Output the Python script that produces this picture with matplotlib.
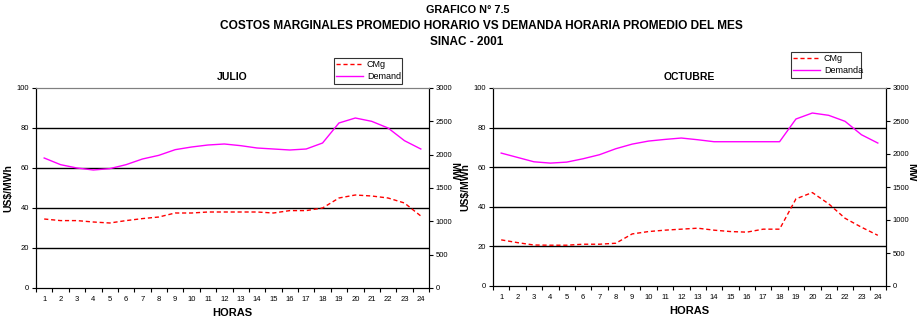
import numpy as np
import matplotlib.pyplot as plt
from matplotlib.ticker import MultipleLocator, FixedLocator

plt.rcParams["font.family"] = ["Liberation Sans", "DejaVu Sans"]

horas = list(range(1, 25))

julio_cmg = [34.5, 33.7, 33.7, 33.0, 32.5, 33.7, 34.7, 35.5, 37.5, 37.5, 38.0, 38.0,
             38.0, 38.0, 37.5, 38.7, 38.7, 40.0, 45.0, 46.5, 46.0, 45.0, 42.5, 36.0]
julio_dem = [1950, 1850, 1800, 1770, 1790, 1850, 1935, 1990, 2075, 2115, 2145, 2160,
             2135, 2100, 2085, 2070, 2085, 2175, 2475, 2550, 2500, 2400, 2210, 2085]

oct_cmg = [23.3, 21.9, 20.7, 20.6, 20.6, 21.1, 21.1, 21.6, 26.3, 27.5, 28.2, 28.7,
           29.2, 28.2, 27.5, 27.2, 28.7, 28.7, 44.0, 47.2, 41.5, 34.2, 29.7, 25.6]
oct_dem = [2014, 1948, 1882, 1862, 1877, 1928, 1989, 2080, 2150, 2196, 2221, 2242,
           2216, 2186, 2186, 2186, 2186, 2186, 2530, 2621, 2586, 2495, 2292, 2166]

W, H = 917, 321
fig = plt.figure(figsize=(W / 100, H / 100), dpi=100)

fig.text(468 / W, 1 - 10 / H, "GRAFICO N° 7.5", ha="center", va="center",
         fontsize=7.8, fontweight="bold")
fig.text(481 / W, 1 - 26 / H,
         "COSTOS MARGINALES PROMEDIO HORARIO VS DEMANDA HORARIA PROMEDIO DEL MES",
         ha="center", va="center", fontsize=8.6, fontweight="bold")
fig.text(467 / W, 1 - 42 / H, "SINAC - 2001", ha="center", va="center",
         fontsize=8.5, fontweight="bold")


def panel(box, titulo, cmg, dem, dem_label, leg_box, mw_pos):
    x0, y_top, x1, y_bot = box
    aw, ah = x1 - x0, y_bot - y_top
    ax = fig.add_axes([x0 / W, 1 - y_bot / H, aw / W, ah / H])
    ax2 = ax.twinx()

    ax.plot(horas, cmg, color="#FF0000", linestyle=(0, (3, 2)), linewidth=1,
            label="CMg")
    ax2.plot(horas, dem, color="#FF00FF", linewidth=1, label=dem_label)

    ax.set_xlim(0.5, 24.5)
    ax.set_ylim(0, 100)
    ax2.set_ylim(0, 3000)
    ax.yaxis.set_major_locator(MultipleLocator(20))
    ax2.yaxis.set_major_locator(MultipleLocator(500))
    for y in [20, 40, 60, 80]:
        ax.axhline(y, color="black", linewidth=1, zorder=0)

    ax.xaxis.set_major_locator(FixedLocator(horas))
    ax.xaxis.set_minor_locator(FixedLocator(np.arange(0.5, 25, 1)))
    ax.tick_params(axis="x", which="major", length=0, labelsize=5.5, pad=6)
    ax.tick_params(axis="x", which="minor", length=3, width=0.8)
    ax.tick_params(axis="y", length=3, width=0.8, labelsize=5.5, pad=2)
    ax2.tick_params(axis="y", length=3, width=0.8, labelsize=5.5, pad=2)

    for a in (ax, ax2):
        a.spines["top"].set_color("#808080")
        for s in ("left", "right", "bottom"):
            a.spines[s].set_linewidth(0.8)

    ax.set_xlabel("HORAS", fontsize=8, fontweight="bold", labelpad=3)
    ax.set_ylabel("US$/MWh", fontsize=7.5, fontweight="bold",
                  ha="center", va="center", rotation_mode="default")
    ax.yaxis.set_label_coords(-28 / aw, 0.5)
    ax2.set_ylabel("MW", fontsize=7.5, fontweight="bold", rotation=270,
                   ha="center", va="center", rotation_mode="default")
    mx, my = mw_pos
    ax2.yaxis.set_label_coords((mx - x0) / aw, (y_bot - my) / ah)
    ax.set_title(titulo, fontsize=7.5, fontweight="bold", pad=6)

    lx0, ly0, lx1, ly1 = leg_box
    h1, l1 = ax.get_legend_handles_labels()
    h2, l2 = ax2.get_legend_handles_labels()
    leg = ax2.legend(h1 + h2, l1 + l2, loc="upper left",
                     bbox_to_anchor=(lx0 / W, 1 - ly1 / H, (lx1 - lx0) / W, (ly1 - ly0) / H),
                     bbox_transform=fig.transFigure, mode="expand",
                     fontsize=6.5, frameon=True, fancybox=False, handlelength=3,
                     handletextpad=0.4, borderpad=0.25, labelspacing=0.35,
                     borderaxespad=0)
    leg.get_frame().set_edgecolor("black")
    leg.get_frame().set_linewidth(0.8)


panel((36, 88, 429, 288), "JULIO", julio_cmg, julio_dem, "Demand",
      (334, 58, 402, 87), (454, 171))
panel((493, 88, 886, 286), "OCTUBRE", oct_cmg, oct_dem, "Demanda",
      (791, 52, 861, 81), (911, 172))

fig.savefig("out.png", dpi=100)
